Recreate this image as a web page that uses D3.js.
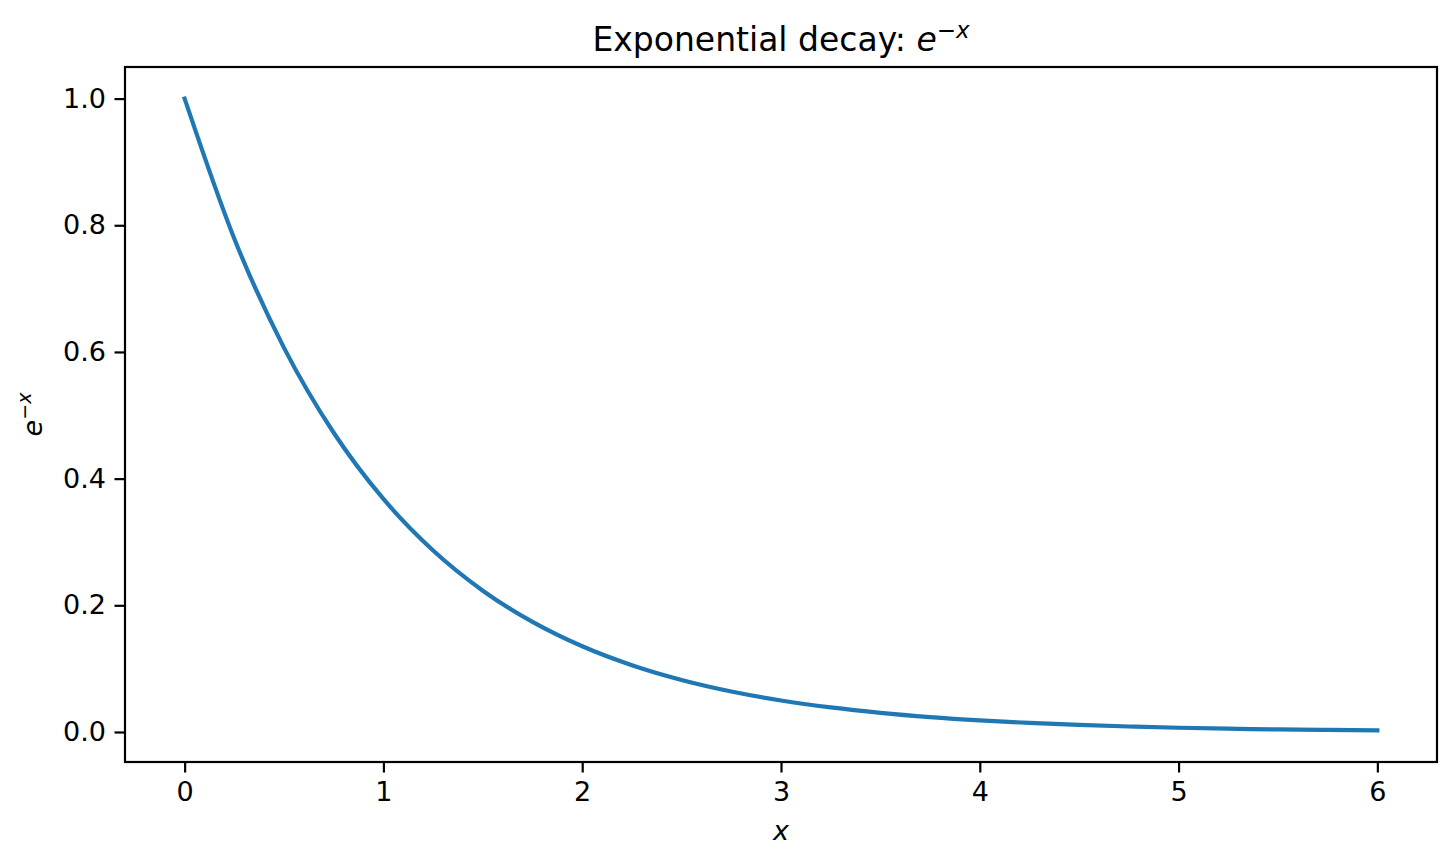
<!DOCTYPE html>
<html>
<head>
<meta charset="utf-8">
<script src="https://cdn.jsdelivr.net/npm/d3@7"></script>
<style>
  body { margin: 0; background: #fff; }
  text { font-family: "DejaVu Sans", sans-serif; fill: #000; }
</style>
</head>
<body>
<script>
// values
const xValues = [0, 0.25, 0.5, 0.75, 1, 1.25, 1.5, 1.75, 2, 2.25, 2.5, 2.75, 3,
  3.25, 3.5, 3.75, 4, 4.25, 4.5, 4.75, 5, 5.25, 5.5, 5.75, 6]
const yValues = [1.0, 0.7788, 0.6065, 0.4724, 0.3679, 0.2865, 0.2231, 0.1738,
  0.1353, 0.1054, 0.0821, 0.0639, 0.0498, 0.0388, 0.0302, 0.0235, 0.0183,
  0.0143, 0.0111, 0.0087, 0.0067, 0.0052, 0.0041, 0.0032, 0.0025]
const xTicks = [0, 1, 2, 3, 4, 5, 6]
const yTicks = [0.0, 0.2, 0.4, 0.6, 0.8, 1.0]

const width = 1456
const height = 866
const margin = { top: 67, right: 19, bottom: 104, left: 125 }

const svg = d3.select('body')
  .append('svg')
  .attr('width', width)
  .attr('height', height)

// matplotlib style 5% padding on each side
const xMin = d3.min(xValues), xMax = d3.max(xValues)
const yMin = d3.min(yValues), yMax = d3.max(yValues)
const xPad = (xMax - xMin) * 0.05
const yPad = (yMax - yMin) * 0.05

const xScale = d3.scaleLinear()
  .domain([xMin - xPad, xMax + xPad])
  .range([margin.left, width - margin.right])

const yScale = d3.scaleLinear()
  .domain([yMin - yPad, yMax + yPad])
  .range([height - margin.bottom, margin.top])

const points = xValues.map((x, i) => [x, yValues[i]])

// the curve
svg.append('path')
  .datum(points)
  .attr('fill', 'none')
  .attr('stroke', '#1f77b4')
  .attr('stroke-width', 4.2)
  .attr('stroke-linecap', 'square')
  .attr('stroke-linejoin', 'round')
  .attr('d', d3.line()
    .x(d => xScale(d[0]))
    .y(d => yScale(d[1]))
    .curve(d3.curveMonotoneX))

// axes
const xAxis = d3.axisBottom(xScale)
  .tickValues(xTicks)
  .tickFormat(d3.format('d'))
  .tickSize(10.5)
  .tickPadding(8)
  .tickSizeOuter(0)

const yAxis = d3.axisLeft(yScale)
  .tickValues(yTicks)
  .tickFormat(d3.format('.1f'))
  .tickSize(10.5)
  .tickPadding(8.5)
  .tickSizeOuter(0)

const xG = svg.append('g')
  .attr('transform', `translate(0,${height - margin.bottom})`)
  .call(xAxis)

const yG = svg.append('g')
  .attr('transform', `translate(${margin.left},0)`)
  .call(yAxis)

for (const g of [xG, yG]) {
  g.select('.domain').remove()
  g.selectAll('.tick line').attr('stroke', '#000').attr('stroke-width', 2.2)
  g.selectAll('.tick text')
    .style('font-family', '"DejaVu Sans", sans-serif')
    .style('font-size', '27px')
    .attr('fill', '#000')
}
xG.selectAll('.tick text').attr('dy', '0.76em')

// frame
svg.append('rect')
  .attr('x', margin.left)
  .attr('y', margin.top)
  .attr('width', width - margin.left - margin.right)
  .attr('height', height - margin.top - margin.bottom)
  .attr('fill', 'none')
  .attr('stroke', '#000')
  .attr('stroke-width', 2.2)

// title
const cx = (margin.left + width - margin.right) / 2
const title = svg.append('text')
  .attr('x', cx)
  .attr('y', 51)
  .attr('text-anchor', 'middle')
  .style('font-size', '33px')
title.append('tspan').text('Exponential decay: ')
title.append('tspan').style('font-style', 'italic').text('e')
title.append('tspan')
  .attr('dy', -13)
  .style('font-size', '23px')
  .text('\u2212')
title.append('tspan')
  .style('font-size', '23px')
  .style('font-style', 'italic')
  .text('x')

// x label
svg.append('text')
  .attr('x', cx)
  .attr('y', 840)
  .attr('text-anchor', 'middle')
  .style('font-size', '27px')
  .style('font-style', 'italic')
  .text('x')

// y label
const yLab = svg.append('text')
  .attr('transform', `translate(42,${(margin.top + height - margin.bottom) / 2}) rotate(-90)`)
  .attr('text-anchor', 'middle')
  .style('font-size', '27px')
yLab.append('tspan').style('font-style', 'italic').text('e')
yLab.append('tspan')
  .attr('dy', -11)
  .style('font-size', '19px')
  .text('\u2212')
yLab.append('tspan')
  .style('font-size', '19px')
  .style('font-style', 'italic')
  .text('x')
</script>
</body>
</html>
